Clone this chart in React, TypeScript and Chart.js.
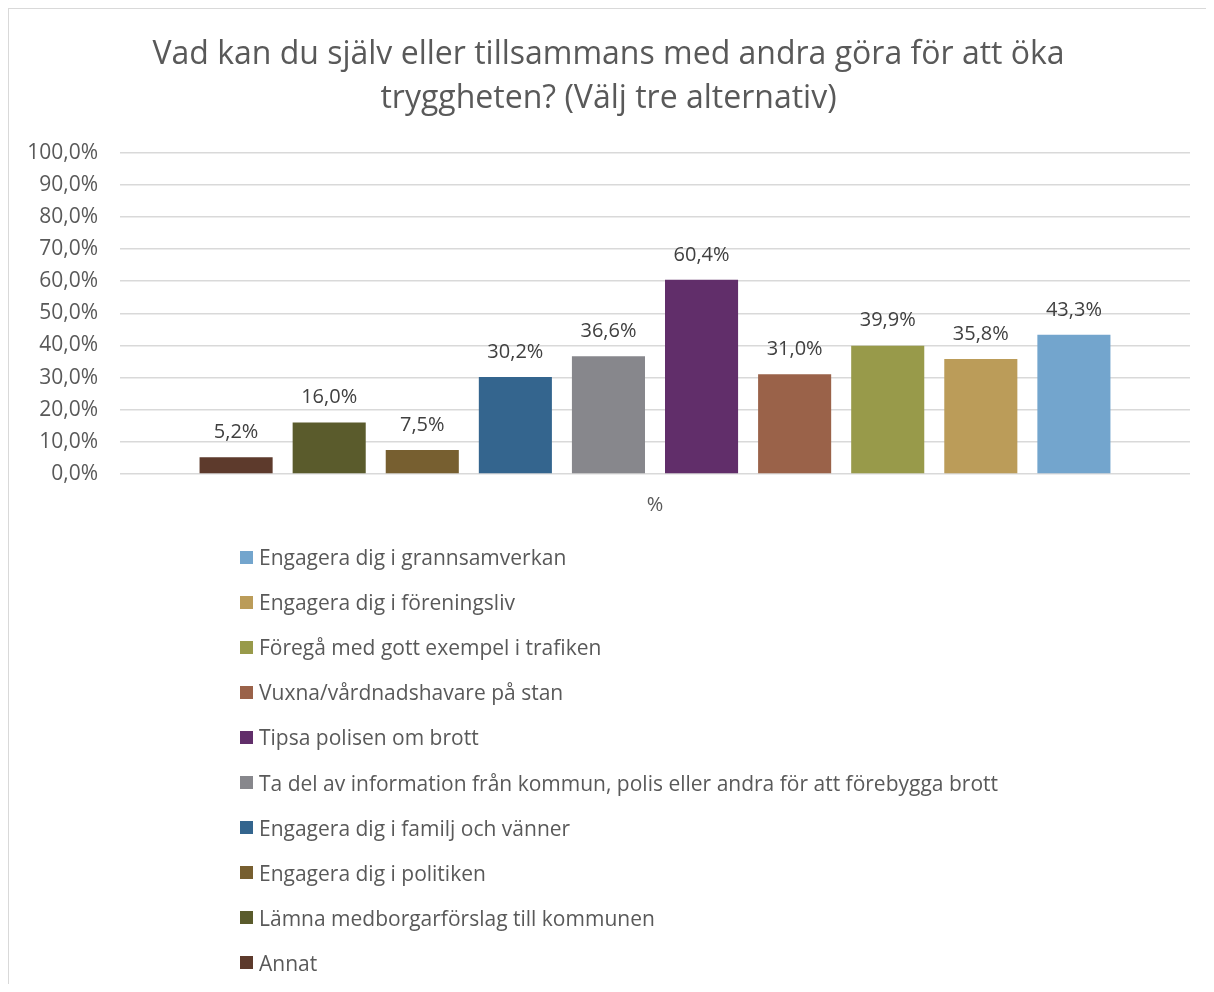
import React, { useEffect, useRef } from "react";
import { Chart, registerables } from "chart.js";

Chart.register(...registerables);

const titleLines = [
  "Vad kan du själv eller tillsammans med andra göra för att öka",
  "tryggheten? (Välj tre alternativ)",
];
const categories = ["%"];
const seriesNames = [
  "Annat",
  "Lämna medborgarförslag till kommunen",
  "Engagera dig i politiken",
  "Engagera dig i familj och vänner",
  "Ta del av information från kommun, polis eller andra för att förebygga brott",
  "Tipsa polisen om brott",
  "Vuxna/vårdnadshavare på stan",
  "Föregå med gott exempel i trafiken",
  "Engagera dig i föreningsliv",
  "Engagera dig i grannsamverkan",
];
const seriesValues = [5.2, 16.0, 7.5, 30.2, 36.6, 60.4, 31.0, 39.9, 35.8, 43.3];
const seriesColors = [
  "#5d3a2c",
  "#5a5b2c",
  "#775f30",
  "#34658e",
  "#87878c",
  "#612e6a",
  "#9a6249",
  "#989a4a",
  "#bb9c59",
  "#73a5cd",
];
const yMin = 0;
const yMax = 100;
const yStep = 10;

const FONT = "'Open Sans', sans-serif";

const fmt = (v: number) => v.toFixed(1).replace(".", ",") + "%";

const dataLabelPlugin = {
  id: "dataLabels",
  afterDatasetsDraw(chart: any) {
    const ctx = chart.ctx;
    ctx.save();
    ctx.font = `20px ${FONT}`;
    ctx.fillStyle = "#404040";
    ctx.textAlign = "center";
    ctx.textBaseline = "middle";
    chart.data.datasets.forEach((ds: any, i: number) => {
      const meta = chart.getDatasetMeta(i);
      meta.data.forEach((el: any, j: number) => {
        ctx.fillText(fmt(ds.data[j]), el.x, el.y - 25);
      });
    });
    ctx.restore();
  },
};

export default function App() {
  const canvasRef = useRef<HTMLCanvasElement | null>(null);

  useEffect(() => {
    if (!canvasRef.current) return;
    const chart = new Chart(canvasRef.current, {
      type: "bar",
      data: {
        labels: categories,
        datasets: seriesNames.map((name, i) => ({
          label: name,
          data: [seriesValues[i]],
          backgroundColor: seriesColors[i],
          borderWidth: 0,
          categoryPercentage: 0.87,
          barPercentage: 0.785,
        })),
      },
      options: {
        animation: false,
        responsive: false,
        maintainAspectRatio: false,
        layout: { padding: { top: 0, right: 24, bottom: 0, left: 18 } },
        plugins: {
          legend: { display: false },
          tooltip: { enabled: false },
          title: {
            display: true,
            text: titleLines,
            color: "#595959",
            font: { family: FONT, size: 32, weight: "normal", lineHeight: 1.4 },
            padding: { top: 23, bottom: 31 },
          },
        },
        scales: {
          x: {
            grid: { display: false },
            border: { display: false },
            ticks: {
              color: "#595959",
              font: { family: FONT, size: 20 },
              padding: 11,
            },
            afterFit: (s: any) => {
              s.height = 65;
            },
          },
          y: {
            min: yMin,
            max: yMax,
            clip: false,
            grid: { color: "#d9d9d9", lineWidth: 1.5, drawTicks: false },
            border: { display: false },
            ticks: {
              stepSize: yStep,
              color: "#595959",
              font: { family: FONT, size: 21 },
              padding: 22,
              callback: (v: any) => fmt(Number(v)),
            },
            afterFit: (s: any) => {
              s.width = 93;
            },
          },
        },
      },
      plugins: [dataLabelPlugin],
    });
    return () => chart.destroy();
  }, []);

  const legendOrder = seriesNames.map((_, i) => i).reverse();

  return (
    <div
      style={{
        position: "relative",
        width: 1205,
        height: 975,
        borderTop: "1px solid #d9d9d9",
        borderLeft: "1px solid #d9d9d9",
        background: "#fff",
        fontFamily: FONT,
        overflow: "hidden",
      }}
    >
      <canvas
        ref={canvasRef}
        width={1205}
        height={530}
        style={{ position: "absolute", left: 0, top: 0, width: 1205, height: 530 }}
      />
      <div style={{ position: "absolute", left: 231, top: 525.5 }}>
        {legendOrder.map((i) => (
          <div
            key={i}
            style={{
              display: "flex",
              alignItems: "center",
              height: 45.1,
              fontSize: 21,
              color: "#595959",
              whiteSpace: "nowrap",
            }}
          >
            <span
              style={{
                display: "inline-block",
                width: 13,
                height: 13,
                background: seriesColors[i],
                marginRight: 6,
              }}
            />
            <span>{seriesNames[i]}</span>
          </div>
        ))}
      </div>
    </div>
  );
}
